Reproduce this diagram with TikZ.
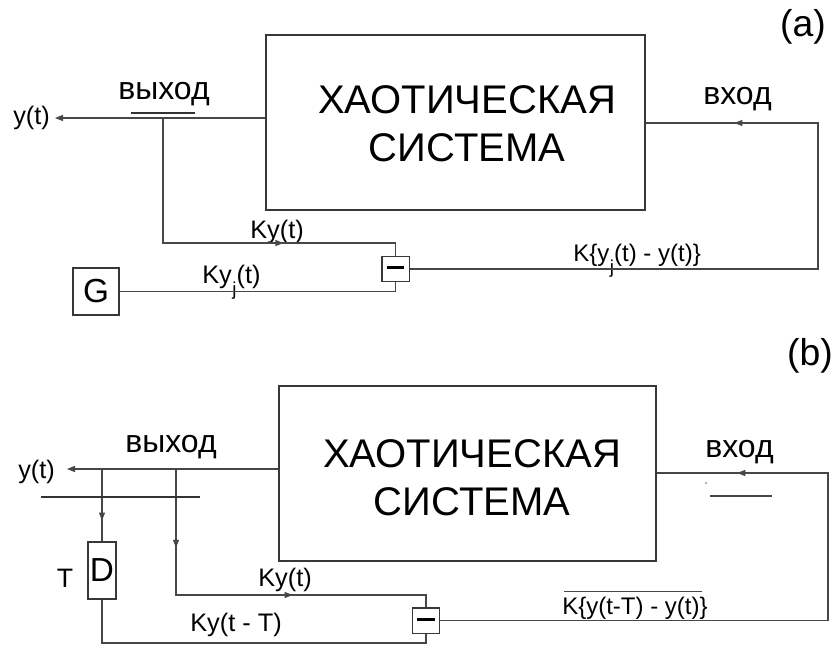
\documentclass[tikz,border=0pt]{standalone}
\usepackage{fontspec}
\setmainfont{Liberation Sans}
\usetikzlibrary{arrows.meta,decorations.markings,calc}
\newcommand\sj{\kern0.02em\raisebox{-0.47em}{\fontsize{14}{14}\selectfont j}\kern0.01em}
\tikzset{
  conn/.style={draw=black!72, line width=0.9pt},
  tip/.style={-{Triangle[length=6pt,width=4.5pt]}},
  arrat/.style={postaction={decorate},decoration={markings,mark=at position #1 with {\arrow{Triangle[length=6pt,width=4.5pt]}}}},
  arrtwo/.style 2 args={postaction={decorate},decoration={markings,
      mark=at position #1 with {\arrow{Triangle[length=6pt,width=4.5pt]}},
      mark=at position #2 with {\arrow{Triangle[length=6pt,width=4.5pt]}}}},
  sysbox/.style={draw=black!78, line width=1.1pt, rectangle, minimum width=#1, minimum height=131.25pt, inner sep=0pt},
  title/.style={font=\fontsize{30}{36}\selectfont, align=center, inner sep=0pt},
  smallbox/.style={draw=black!78, line width=1pt, rectangle, inner sep=0pt, font=\fontsize{25}{25}\selectfont},
  minusbox/.style={draw=black!78, line width=1pt, rectangle, inner sep=0pt, minimum width=20.5pt, minimum height=19pt},
  lbl/.style={font=\fontsize{19}{22}\selectfont, inner sep=0pt},
  cyr/.style={font=\fontsize{24}{26}\selectfont, inner sep=0pt},
  tag/.style={font=\fontsize{28}{30}\selectfont, inner sep=0pt},
  bar/.style={draw=black!80, line width=2pt},
}
\begin{document}
\begin{tikzpicture}[x=0.75pt,y=-0.75pt]
\useasboundingbox (0,0) rectangle (832,645);
% ---------------- (a) ----------------
\node[sysbox=284.25pt] (sysA) at (455.5,122.5) {};
\node[title] (tA) at (467,124) {ХАОТИЧЕСКАЯ\\СИСТЕМА};
\node[smallbox, minimum width=34.5pt, minimum height=35.25pt] (G) at (96,291.5) {G};
\node[minusbox] (minA) at (395.5,269) {\rule[0.3ex]{12.75pt}{2.3pt}};
\node[tag] (labA) at (803,27) {(a)};
\node[cyr, anchor=base west] (outA) at (118,100) {выход};
\node[cyr, anchor=base west] (inA) at (703,105) {вход};
\node[lbl, anchor=west] (ytA) at (13,118) {y(t)};
\node[lbl, anchor=west] (kyA) at (250,232) {Ky(t)};
\node[lbl, anchor=base west] (kyjA) at (202,284) {Ky\sj(t)};
\node[lbl, font=\fontsize{18}{20}\selectfont, anchor=base west] (kdA) at (573,262) {K\{y\sj(t) - y(t)\}};
\coordinate (oA) at (55,118);
\coordinate (jA) at (163,118);
\coordinate (cA) at (395.5,243);
\coordinate (rA) at (818,123);
\draw[conn,tip] (sysA.west |- oA) -- (oA);
\draw[conn,arrat=0.663] (jA) |- (cA) -- (minA.north);
\draw[conn] (G.east) -| (minA.south);
\draw[conn,arrat=0.878] (minA.east) -| (rA) -- (sysA.east |- rA);
\draw[bar, line width=2.2pt] (131,113) -- (195,113);
% ---------------- (b) ----------------
\node[sysbox=282.75pt] (sysB) at (467.5,473.5) {};
\node[title] (tB) at (472,478) {ХАОТИЧЕСКАЯ\\СИСТЕМА};
\node[smallbox, minimum width=21pt, minimum height=42.75pt] (D) at (102,570.5) {D};
\node[minusbox] (minB) at (426,620.5) {\rule[0.3ex]{13pt}{2.3pt}};
\node[tag] (labB) at (810,356) {(b)};
\node[cyr, anchor=base west] (outB) at (125,452) {выход};
\node[cyr, anchor=base west] (inB) at (705,457) {вход};
\node[lbl, anchor=west] (ytB) at (18,472) {y(t)};
\node[lbl, anchor=west] (kyB) at (258,580) {Ky(t)};
\node[lbl, anchor=west] (kyTB) at (190,625) {Ky(t - T)};
\node[lbl, font=\fontsize{18}{20}\selectfont, anchor=west] (kdB) at (562,608) {K\{y(t-T) - y(t)\}};
\node[lbl, font=\fontsize{20}{22}\selectfont] (TB) at (65,578) {T};
\coordinate (oB) at (67,469);
\coordinate (jB1) at (102,469);
\coordinate (jB2) at (176,469);
\coordinate (cB) at (426,595);
\coordinate (cB2) at (426,643);
\coordinate (rB) at (828,473);
\draw[conn,tip] (sysB.west |- oB) -- (oB);
\draw[conn,arrat=0.712] (jB1) -- (D.north);
\draw[conn,arrtwo={0.203}{0.625}] (jB2) |- (cB) -- (minB.north);
\draw[conn] (D.south) |- (cB2) -- (minB.south);
\draw[conn,arrat=0.886] (minB.east) -| (rB) -- (sysB.east |- rB);
\draw[conn] ([xshift=1.5pt,yshift=4pt]kdB.north west) -- ([xshift=-4.5pt,yshift=4pt]kdB.north east);
\draw[bar, line width=1.6pt] (41,497) -- (200,497);
\draw[conn, line width=1.2pt] (710,496) -- (772,496);
\fill[black!60] (706,483) circle (0.9);
\end{tikzpicture}
\end{document}
